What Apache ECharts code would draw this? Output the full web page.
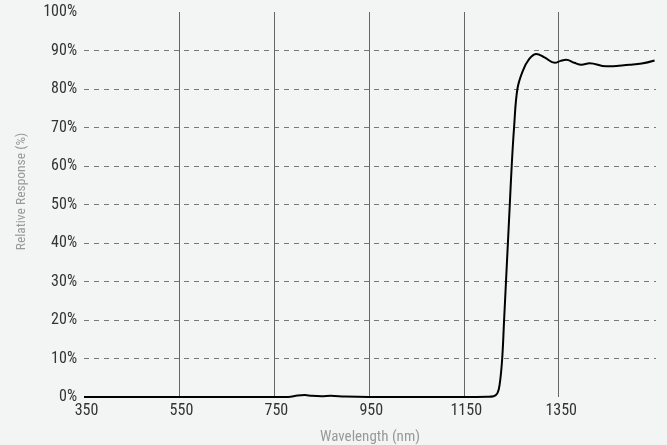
<!DOCTYPE html>
<html>
<head>
<meta charset="utf-8">
<script src="https://cdn.jsdelivr.net/npm/echarts@6/dist/echarts.min.js"></script>
<style>
html,body{margin:0;padding:0;background:#f3f4f4;}
#chart{width:667px;height:445px;}
</style>
</head>
<body>
<div id="chart"></div>
<script>
// Wavelength (nm) sample points
const wavelengths = [350, 500, 650, 780, 800, 815, 830, 850, 870, 900, 950, 1050, 1150, 1200, 1213, 1221, 1226, 1231, 1235, 1239, 1243, 1247, 1251, 1256, 1263, 1274, 1288, 1303, 1320, 1342, 1354, 1366, 1383, 1398, 1415, 1450, 1499, 1525, 1552];
// Relative response (%)
const responses   = [0, 0, 0, 0, 0.4, 0.5, 0.3, 0.2, 0.3, 0.1, 0, 0, 0, 0.05, 0.2, 1, 3.6, 10, 20, 30, 40, 50, 60, 70, 80, 84.6, 87.8, 89.1, 88.2, 86.8, 87.3, 87.6, 86.8, 86.3, 86.7, 85.9, 86.3, 86.6, 87.4];
const xTicks = [350, 550, 750, 950, 1150, 1350];
const yTicks = [0, 10, 20, 30, 40, 50, 60, 70, 80, 90, 100];

const fontFam = "'Roboto Condensed', 'DejaVu Sans Condensed', 'Liberation Sans Narrow', sans-serif";
const chart = echarts.init(document.getElementById('chart'), null, {renderer: 'canvas'});
chart.setOption({
  backgroundColor: '#f3f4f4',
  animation: false,
  grid: {left: 84, right: 11, top: 12, bottom: 48, containLabel: false, outerBoundsMode: 'none'},
  xAxis: {
    type: 'value',
    min: 350, max: 1555, interval: 200,
    name: 'Wavelength (nm)',
    nameLocation: 'middle', nameGap: 33,
    nameTextStyle: {color: '#999', fontSize: 15, fontFamily: fontFam},
    axisLine: {show: false},
    axisTick: {show: false, customValues: xTicks},
    axisLabel: {customValues: xTicks, formatter: v => String(v), color: '#333', fontSize: 16, fontFamily: fontFam, margin: 6, padding: [0, 0, 0, 5]},
    splitLine: {show: true, showMinLine: false, showMaxLine: true, lineStyle: {color: '#666', width: 1, type: 'solid'}}
  },
  yAxis: {
    type: 'value',
    min: 0, max: 100, interval: 10,
    name: 'Relative Response (%)',
    nameLocation: 'middle', nameGap: 55,
    nameTextStyle: {color: '#999', fontSize: 13.5, fontFamily: fontFam, padding: [0, 0, 0, 26]},
    axisLine: {show: false},
    axisTick: {show: false, customValues: yTicks},
    axisLabel: {customValues: yTicks, formatter: '{value}%', color: '#333', fontSize: 16, fontFamily: fontFam, margin: 7},
    splitLine: {show: true, showMinLine: false, showMaxLine: false, lineStyle: {color: '#777', width: 1, type: [5, 5]}}
  },
  series: [{
    type: 'line',
    data: wavelengths.map((w, i) => [w, responses[i]]),
    smooth: 0.4,
    showSymbol: false,
    lineStyle: {color: '#000', width: 2},
    z: 5
  }]
});
</script>
</body>
</html>
